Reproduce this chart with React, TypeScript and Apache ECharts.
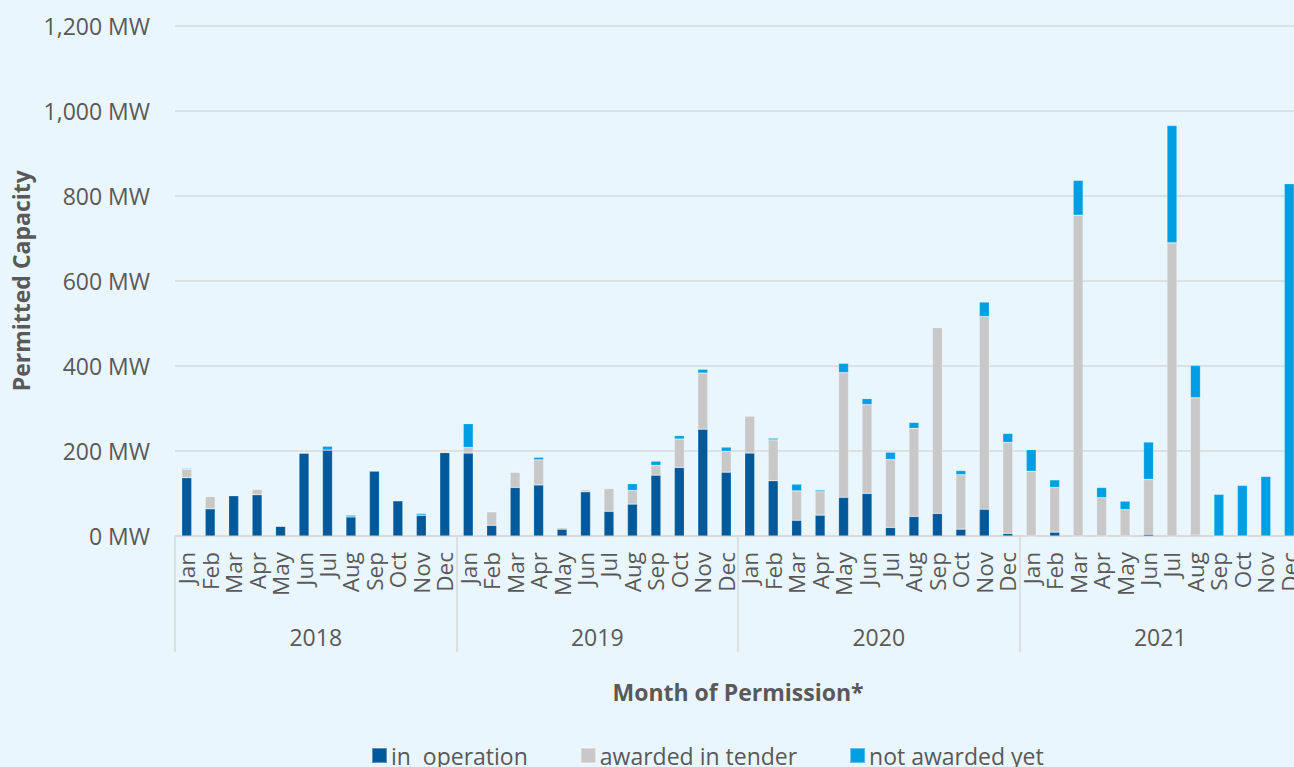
import React, { useEffect, useRef } from "react";
import * as echarts from "echarts";

const months = ["Jan", "Feb", "Mar", "Apr", "May", "Jun", "Jul", "Aug", "Sep", "Oct", "Nov", "Dec"];
const years = ["2018", "2019", "2020", "2021"];
const monthCategories: string[] = years.flatMap((y) => months.map((m) => `${m} ${y}`));

const inOperation = [
  137, 64, 95, 97, 23, 195, 202, 45, 153, 83, 49, 196,
  195, 25, 114, 120, 16, 104, 58, 75, 143, 161, 251, 150,
  195, 130, 37, 49, 91, 100, 20, 46, 53, 16, 63, 6,
  0, 9, 0, 0, 0, 4, 0, 2, 0, 0, 0, 0,
];
const awardedInTender = [
  20, 29, 0, 13, 0, 0, 0, 0, 0, 0, 0, 2,
  13, 32, 36, 59, 4, 5, 54, 32, 23, 67, 132, 49,
  87, 96, 69, 55, 293, 209, 160, 207, 437, 128, 453, 214,
  152, 105, 754, 90, 62, 129, 689, 323, 0, 0, 0, 0,
];
const notAwardedYet = [
  2, 0, 0, 0, 0, 0, 9, 4, 0, 0, 4, 0,
  56, 0, 0, 6, 0, 0, 0, 16, 10, 8, 9, 10,
  0, 4, 16, 4, 22, 14, 17, 14, 0, 10, 34, 21,
  51, 18, 82, 24, 20, 88, 276, 76, 98, 119, 140, 828,
];
const seriesNames = ["in  operation", "awarded in tender", "not awarded yet"];
const yTicks = { min: 0, max: 1200, interval: 200 };

const FONT = "'Open Sans', 'Noto Sans', sans-serif";
const TEXT = "#595959";
const GRID = "#D9D9D9";
const FS = 23;

export default function App() {
  const ref = useRef<HTMLDivElement>(null);
  useEffect(() => {
    if (!ref.current) return;
    const chart = echarts.init(ref.current, undefined, { renderer: "svg" });
    const barBase = {
      type: "bar",
      stack: "total",
      barWidth: 10,
      xAxisIndex: 0,
      yAxisIndex: 0,
      itemStyle: { borderColor: "rgba(255,255,255,0.35)", borderWidth: 0.6 },
    };
    chart.setOption({
      animation: false,
      backgroundColor: "#EAF6FD",
      textStyle: { fontFamily: FONT },
      grid: { left: 175, right: 19, top: 25.5, bottom: 231, containLabel: false },
      legend: {
        left: 366,
        top: 739,
        padding: 5,
        itemWidth: 15,
        itemHeight: 15,
        itemGap: 52,
        icon: "rect",
        textStyle: { fontSize: FS, color: TEXT, fontFamily: FONT, padding: [0, 0, 0, -1] },
        data: seriesNames,
      },
      xAxis: [
        {
          type: "category",
          data: monthCategories,
          position: "bottom",
          axisLine: { show: true, lineStyle: { color: GRID, width: 1.5 } },
          axisTick: { show: false },
          axisLabel: {
            interval: 0,
            rotate: 90,
            margin: 16,
            fontSize: 22.5,
            color: TEXT,
            fontFamily: FONT,
            formatter: (v: string) => v.split(" ")[0],
          },
        },
        {
          type: "category",
          data: years,
          position: "bottom",
          name: "Month of Permission*",
          nameLocation: "middle",
          nameGap: 144,
          nameTextStyle: { fontSize: FS, fontWeight: "bold", color: TEXT, fontFamily: FONT },
          axisLine: { show: false },
          axisTick: { show: true, length: 116, lineStyle: { color: GRID, width: 1.5 } },
          axisLabel: { margin: 89, fontSize: FS, color: TEXT, fontFamily: FONT },
          splitLine: { show: false },
        },
      ],
      yAxis: {
        type: "value",
        min: yTicks.min,
        max: yTicks.max,
        interval: yTicks.interval,
        name: "Permitted Capacity",
        nameLocation: "middle",
        nameGap: 141,
        nameTextStyle: { fontSize: FS, fontWeight: "bold", color: TEXT, fontFamily: FONT },
        axisLine: { show: false },
        axisTick: { show: false },
        axisLabel: {
          margin: 25,
          fontSize: FS,
          color: TEXT,
          fontFamily: FONT,
          formatter: (v: number) => `${v.toLocaleString("en-US")} MW`,
        },
        splitLine: { lineStyle: { color: GRID, width: 1.5 } },
      },
      series: [
        { ...barBase, name: seriesNames[0], data: inOperation, itemStyle: { ...barBase.itemStyle, color: "#00599A" } },
        { ...barBase, name: seriesNames[1], data: awardedInTender, itemStyle: { ...barBase.itemStyle, color: "#C8C8C8" } },
        { ...barBase, name: seriesNames[2], data: notAwardedYet, itemStyle: { ...barBase.itemStyle, color: "#009FE3" } },
      ],
    });
    return () => chart.dispose();
  }, []);
  return (
    <div style={{ position: "absolute", left: 0, top: 0, width: 1294, height: 767, overflow: "hidden" }}>
      <div ref={ref} style={{ position: "absolute", left: 0, top: 0, width: 1320, height: 767 }} />
    </div>
  );
}
